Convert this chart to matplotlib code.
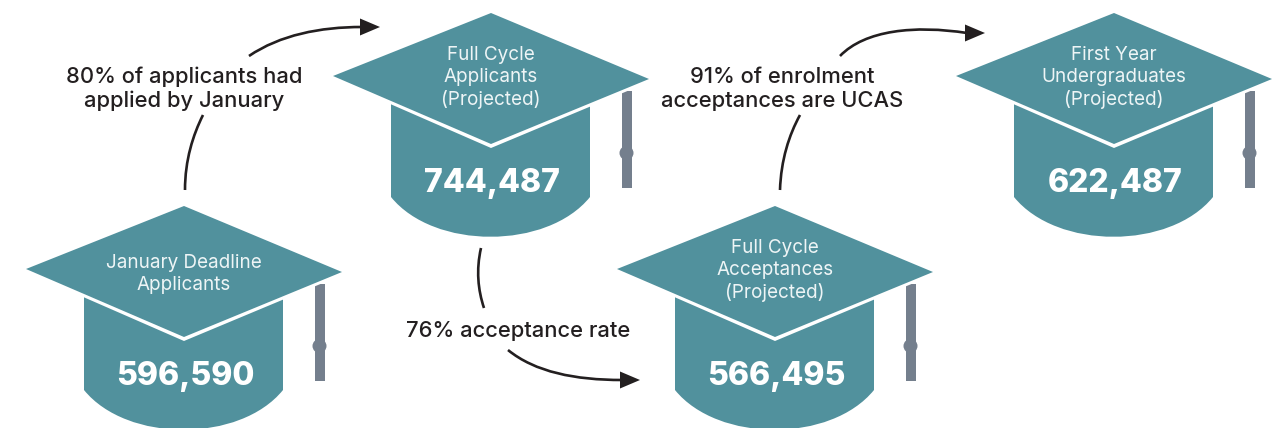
import matplotlib
matplotlib.use('Agg')
import matplotlib.pyplot as plt
from matplotlib.patches import PathPatch, Polygon, Circle
from matplotlib.path import Path

plt.rcParams['font.family'] = ['Inter', 'DejaVu Sans']

hat_labels = [
    'January Deadline\nApplicants',
    'Full Cycle\nApplicants\n(Projected)',
    'Full Cycle\nAcceptances\n(Projected)',
    'First Year\nUndergraduates\n(Projected)',
]
hat_values = [596590, 744487, 566495, 622487]
notes = ['80% of applicants had\napplied by January', '76% acceptance rate',
         '91% of enrolment\nacceptances are UCAS']

TEAL = '#51919d'
GREY = '#747f8d'
DARK = '#231f20'


def draw_hat(ax, dx, dy, label, value):
    # body, with a curved bottom
    verts = [(84, 290), (283, 290), (283, 390), (240, 443), (127, 443), (84, 390), (84, 290)]
    verts = [(x + dx, y + dy) for x, y in verts]
    codes = [Path.MOVETO, Path.LINETO, Path.LINETO, Path.CURVE4, Path.CURVE4, Path.CURVE4, Path.CLOSEPOLY]
    ax.add_patch(PathPatch(Path(verts, codes), fc=TEAL, ec='none', zorder=1))
    # tassel
    ax.add_patch(Polygon([(314.5 + dx, 284 + dy), (324.5 + dx, 284 + dy), (324.5 + dx, 381 + dy), (314.5 + dx, 381 + dy)],
                         fc=GREY, ec='none', zorder=1))
    ax.add_patch(Circle((319.5 + dx, 346 + dy), 7, fc=GREY, ec='none', zorder=1))
    # white gap under the board, then the board
    gap = [(26, 269), (184, 206), (342, 272), (342, 275), (184, 341), (26, 272)]
    ax.add_patch(Polygon([(x + dx, y + dy) for x, y in gap], fc='white', ec='none', zorder=2))
    board = [(184, 206), (342, 272), (184, 337), (26, 269)]
    ax.add_patch(Polygon([(x + dx, y + dy) for x, y in board], fc=TEAL, ec='none', zorder=2))
    n_lines = label.count('\n') + 1
    top = 263 if n_lines == 2 else 248
    for i, line in enumerate(label.split('\n')):
        ax.text(184 + dx, top + dy + i * 22, line, color='#eef5f6', fontsize=13.6,
                ha='center', va='center', zorder=3)
    ax.text(185 + dx, 376 + dy, f'{value:,}', color='white', fontsize=23, fontweight='heavy',
            ha='center', va='center', zorder=3)


def draw_curve(ax, pts):
    codes = [Path.MOVETO] + [Path.CURVE4] * 3
    ax.add_patch(PathPatch(Path(pts, codes), fc='none', ec=DARK, lw=1.9, capstyle='butt', zorder=2))


def draw_head(ax, x, y):
    ax.add_patch(Polygon([(x, y), (x - 20, y - 8.5), (x - 20, y + 8.5)], fc=DARK, ec='none', zorder=2))


def main():
    fig = plt.figure(figsize=(12.8, 4.28), dpi=100)
    ax = fig.add_axes([0, 0, 1, 1])
    ax.set_xlim(0, 1280)
    ax.set_ylim(428, 0)
    ax.axis('off')

    offsets = [(0, 0), (307, -193), (591, 0), (930, -193)]
    for (dx, dy), label, value in zip(offsets, hat_labels, hat_values):
        draw_hat(ax, dx, dy, label, value)

    draw_curve(ax, [(185, 190), (185, 160), (193, 135), (203, 115)])
    draw_curve(ax, [(249, 56), (280, 35), (320, 27), (362, 27)])
    draw_head(ax, 380, 27)

    draw_curve(ax, [(481, 248), (476, 270), (478, 290), (484, 308)])
    draw_curve(ax, [(508, 350), (535, 372), (575, 380), (622, 380)])
    draw_head(ax, 640, 380)

    draw_curve(ax, [(780, 190), (781, 160), (789, 135), (800, 115)])
    draw_curve(ax, [(840, 56), (865, 30), (915, 25), (967, 33)])
    draw_head(ax, 985, 33)

    note_pos = [(184, 89), (518, 331), (782, 89)]
    for (x, y), note in zip(note_pos, notes):
        ax.text(x, y, note, color=DARK, fontsize=15.8, fontweight='medium', ha='center', va='center',
                linespacing=1.2)

    fig.savefig('out.png', dpi=100, facecolor='white')


if __name__ == "__main__":
    main()
